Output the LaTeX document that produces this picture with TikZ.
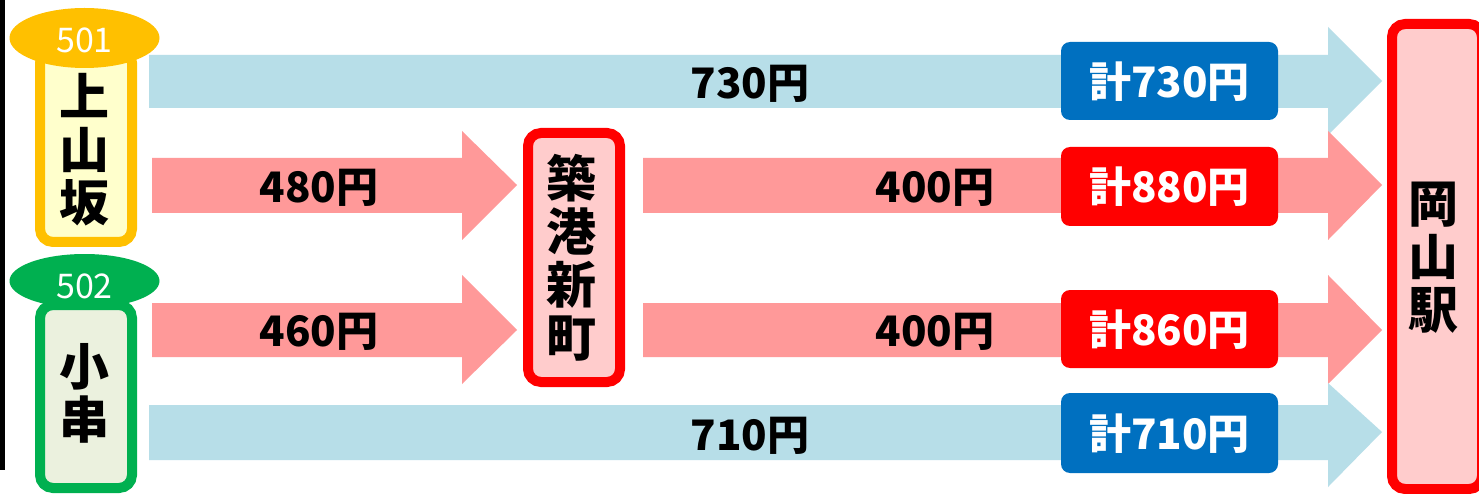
\documentclass[tikz,border=0pt]{standalone}
\usepackage{fontspec}
\newfontfamily\jp{Noto Sans CJK JP}
\definecolor{lblue}{HTML}{B7DEE8}
\definecolor{lred}{HTML}{FF9999}
\definecolor{boxblue}{HTML}{0070C0}
\definecolor{boxred}{HTML}{FF0000}
\definecolor{stfill}{HTML}{FFCCCC}
\definecolor{yfill}{HTML}{FFFFCC}
\definecolor{ybord}{HTML}{FFC000}
\definecolor{gbord}{HTML}{00B050}
\definecolor{gfill}{HTML}{EBF1DE}
\begin{document}
\begin{tikzpicture}[x=1pt,y=-1pt,
  stname/.style={align=center,inner sep=0pt,font=\jp\bfseries\fontsize{50}{53}\selectfont},
  price/.style={inner sep=0pt,font=\jp\bfseries\fontsize{42}{42}\selectfont},
  total/.style={inner sep=0pt,text=white,font=\jp\bfseries\fontsize{42}{42}\selectfont},
  totbox/.style={rounded corners=9pt},
  badge/.style={inner sep=0pt,text=white,font=\jp\fontsize{34}{34}\selectfont},
  stbox/.style={line width=10pt,rounded corners=13pt}]
\useasboundingbox (0,0) rectangle (1479,494);
\fill[white] (0,0) rectangle (1479,494);
% black line at left
\fill[black] (0,0) rectangle (5,470);
% arrows
\fill[lblue] (149,55) -- (1328,55) -- (1328,27) -- (1382,81) -- (1328,135) -- (1328,108) -- (149,108) -- cycle;
\fill[lred] (152,158) -- (462,158) -- (462,131) -- (517,185) -- (462,240) -- (462,213) -- (152,213) -- cycle;
\fill[lred] (643,158) -- (1328,158) -- (1328,131) -- (1382,185) -- (1328,240) -- (1328,213) -- (643,213) -- cycle;
\fill[lred] (152,303) -- (462,303) -- (462,275) -- (517,330) -- (462,384) -- (462,357) -- (152,357) -- cycle;
\fill[lred] (643,303) -- (1328,303) -- (1328,275) -- (1382,330) -- (1328,384) -- (1328,357) -- (643,357) -- cycle;
\fill[lblue] (149,405) -- (1328,405) -- (1328,383) -- (1382,432) -- (1328,487) -- (1328,460) -- (149,460) -- cycle;
% stations
\filldraw[stbox,draw=ybord,fill=yfill] (40,50) rectangle (132,242);
\fill[ybord] (84.5,38) ellipse [x radius=75,y radius=30];
\node[badge] (b501) at (84.5,40) {501};
\node[stname] (kamiyama) at (84,150) {上\\山\\坂};
\filldraw[stbox,draw=gbord,fill=gfill] (40,305) rectangle (132,488);
\fill[gbord] (84.5,281) ellipse [x radius=75,y radius=27];
\node[badge] (b502) at (84.5,286) {502};
\node[stname] (kogushi) at (84,393) {小\\串};
\filldraw[stbox,draw=boxred,fill=stfill] (528,133) rectangle (620,382);
\node[stname] (chikko) at (571,258) {築\\港\\新\\町};
\filldraw[stbox,draw=boxred,fill=stfill] (1392,24) rectangle (1482,489);
\node[stname] (okayama) at (1433,258) {岡\\山\\駅};
% price labels
\node[price] (p730) at (750,84) {730円};
\node[price] (p480) at (319,188) {480円};
\node[price] (p400a) at (935,188) {400円};
\node[price] (p460) at (319,332) {460円};
\node[price] (p400b) at (935,332) {400円};
\node[price] (p710) at (750,436) {710円};
% totals
\fill[totbox,boxblue] (1061,42) rectangle (1278,120);
\node[total] (t730) at (1169.5,82) {計730円};
\fill[totbox,boxred] (1061,147) rectangle (1278,226);
\node[total] (t880) at (1169.5,187) {計880円};
\fill[totbox,boxred] (1061,290) rectangle (1278,368);
\node[total] (t860) at (1169.5,330) {計860円};
\fill[totbox,boxblue] (1061,393) rectangle (1278,473);
\node[total] (t710) at (1169.5,434) {計710円};
\end{tikzpicture}
\end{document}
